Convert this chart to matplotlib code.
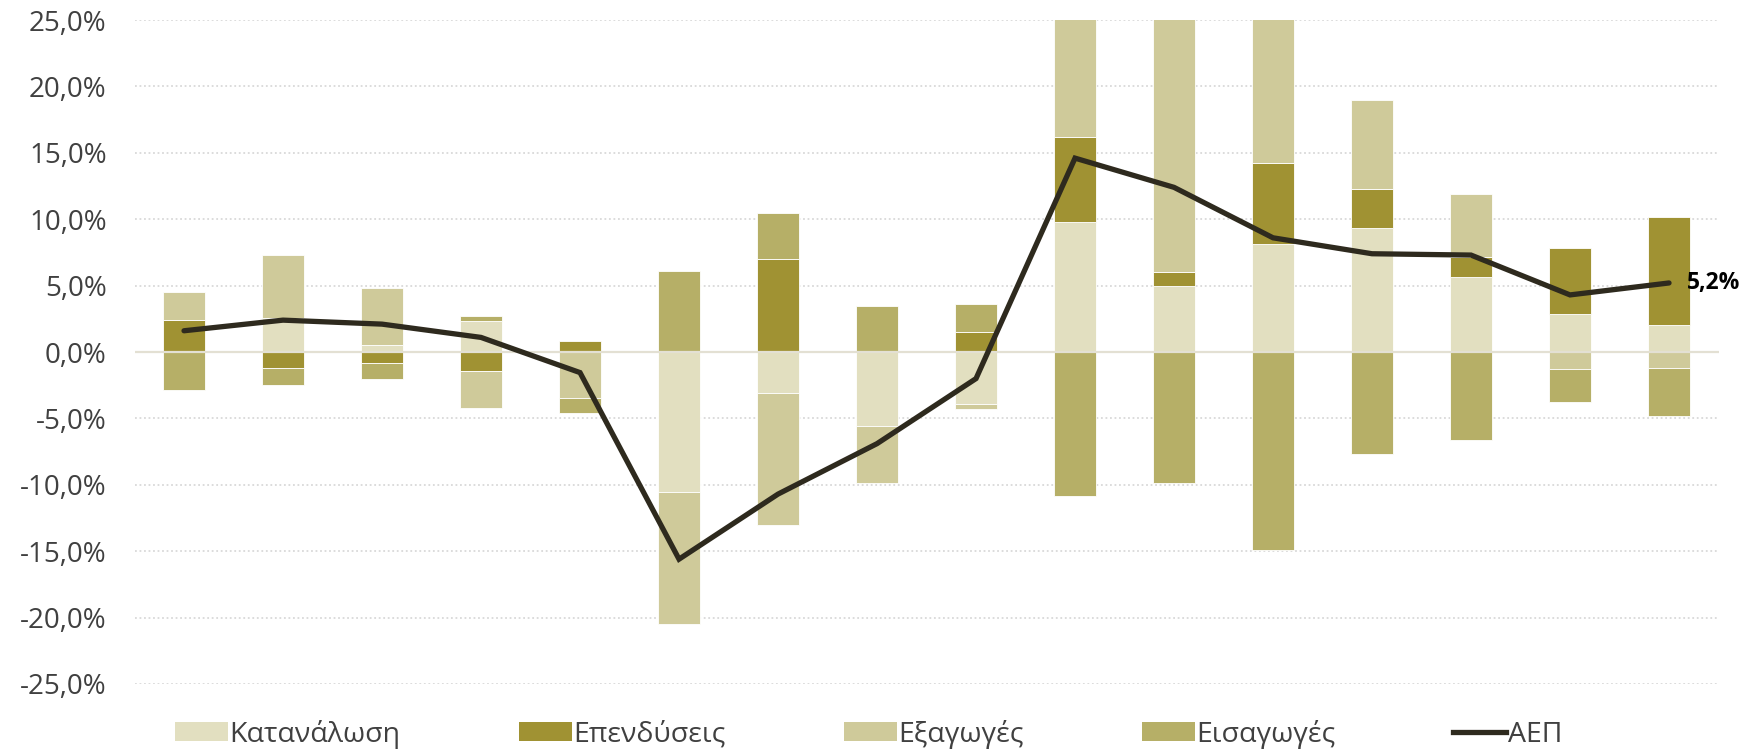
import matplotlib
matplotlib.use("Agg")
import matplotlib.pyplot as plt
import numpy as np
from matplotlib.ticker import FuncFormatter
from matplotlib.patches import Patch
from matplotlib.lines import Line2D

plt.rcParams['font.family'] = ['Open Sans', 'DejaVu Sans']

# contributions to GDP growth (percentage points), one value per period
consumption = [0.0, 2.55, 0.5, 2.3, 0.0, -10.55, -3.1, -5.55, -3.95, 9.8, 5.0, 8.1, 9.35, 5.65, 2.9, 2.0]
investment = [2.4, -1.2, -0.8, -1.45, 0.85, 0.0, 7.0, 0.0, 1.5, 6.4, 1.0, 6.15, 2.9, 1.5, 4.9, 8.15]
exports = [2.15, 4.75, 4.3, -2.75, -3.45, -9.9, -9.9, -4.3, -0.35, 12.0, 21.0, 11.5, 6.7, 4.75, -1.25, -1.2]
imports = [-2.85, -1.3, -1.2, 0.4, -1.15, 6.1, 3.5, 3.45, 2.1, -10.85, -9.85, -14.9, -7.65, -6.65, -2.55, -3.65]
gdp = [1.6, 2.4, 2.1, 1.1, -1.55, -15.6, -10.7, -6.9, -2.0, 14.6, 12.4, 8.6, 7.4, 7.3, 4.3, 5.2]

series = [
    ('Κατανάλωση', consumption, '#e2dfc0'),
    ('Επενδύσεις', investment, '#a09233'),
    ('Εξαγωγές', exports, '#cfca9a'),
    ('Εισαγωγές', imports, '#b6af67'),
]
LINE_COLOR = '#2e2a1e'
TEXT_COLOR = '#404040'

fig = plt.figure(figsize=(17.47, 7.5), dpi=100)
ax = fig.add_axes([0.077, 0.088, 0.9067, 0.8853])

x = np.arange(len(gdp))
pos_base = np.zeros(len(x))
neg_base = np.zeros(len(x))
handles = []
for name, vals, col in series:
    v = np.array(vals, dtype=float)
    bottom = np.where(v >= 0, pos_base, neg_base)
    ax.bar(x, v, 0.42, bottom=bottom, color=col, edgecolor='white',
           linewidth=0.6, zorder=3)
    pos_base += np.where(v >= 0, v, 0)
    neg_base += np.where(v < 0, v, 0)
    handles.append(Patch(facecolor=col, edgecolor='none', label=name))

ax.plot(x, gdp, color=LINE_COLOR, linewidth=3.8, zorder=5,
        solid_joinstyle='miter', solid_capstyle='round')
handles.append(Line2D([], [], color=LINE_COLOR, linewidth=3.8, label='ΑΕΠ'))

ax.annotate(f"{gdp[-1]:.1f}%".replace('.', ','), (x[-1], gdp[-1]),
            xytext=(13, 0), textcoords='offset points', va='center', ha='left',
            fontsize=16.5, fontweight='bold', color='black', zorder=6)

ax.set_xlim(-0.5, len(x) - 0.5)
ax.set_ylim(-25, 25)
ax.set_yticks(np.arange(-25, 26, 5))
ax.yaxis.set_major_formatter(FuncFormatter(lambda v, p: f"{v:.1f}%".replace('.', ',')))
ax.tick_params(axis='y', length=0, pad=20, labelsize=20, labelcolor=TEXT_COLOR)
ax.tick_params(axis='x', length=0, labelbottom=False)
ax.set_xticks([])

for v in np.arange(-25, 26, 5):
    if v == 0:
        continue
    ax.axhline(v, color='#d9d9d9', linewidth=1.3, linestyle=(0, (1, 1.5)), zorder=1)
ax.axhline(0, color='#e3e0d3', linewidth=1.6, zorder=4)

for s in ax.spines.values():
    s.set_visible(False)

fig.legend(handles=handles, loc='center left', bbox_to_anchor=(0.1002, 0.021),
           ncol=5, frameon=False, fontsize=20.5, handlelength=1.86, handleheight=0.67,
           handletextpad=0.05, columnspacing=4.15, labelcolor=TEXT_COLOR,
           borderaxespad=0, borderpad=0)

fig.savefig('out.png', dpi=100)
